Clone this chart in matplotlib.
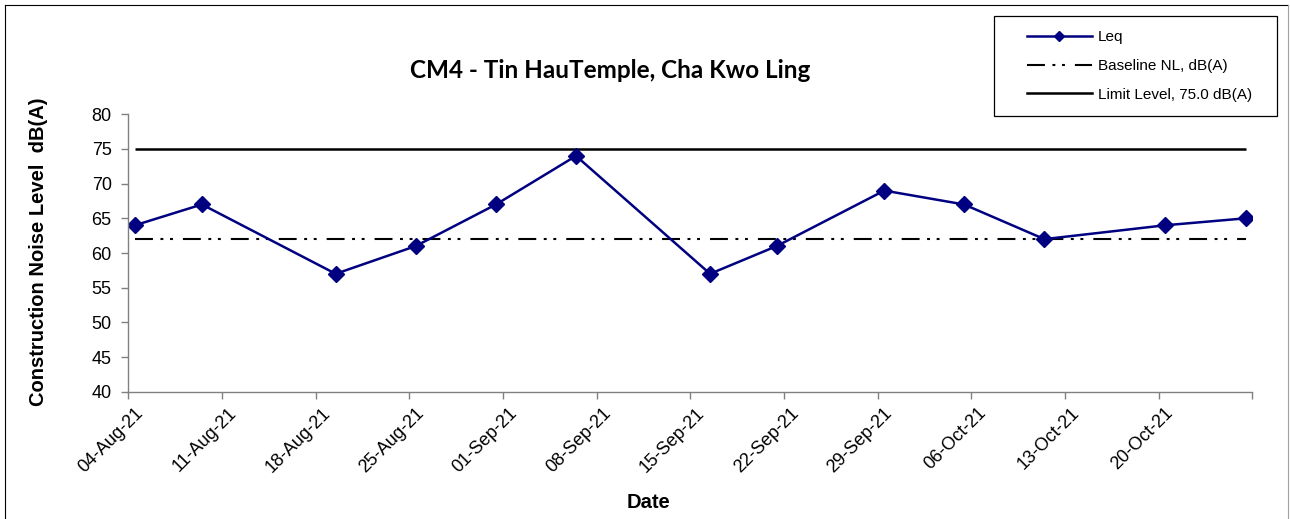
import matplotlib
matplotlib.use("Agg")
import matplotlib.pyplot as plt
import matplotlib.dates as mdates
from matplotlib.lines import Line2D
from matplotlib.patches import Rectangle
from matplotlib.ticker import FuncFormatter
import pandas as pd

# ---- data ----
dates = ["2021-08-04 12:00", "2021-08-09 12:00", "2021-08-19 12:00", "2021-08-25 11:30",
         "2021-08-31 11:30", "2021-09-06 11:00", "2021-09-16 11:30", "2021-09-21 11:00",
         "2021-09-29 12:00", "2021-10-05 11:00", "2021-10-11 11:00", "2021-10-20 12:00",
         "2021-10-26 12:00"]
leq = [64, 67, 57, 61, 67, 74, 57, 61, 69, 67, 62, 64, 65]
baseline_value = 62
limit_value = 75
labels = ["Leq", "Baseline NL, dB(A)", "Limit Level, 75.0 dB(A)"]
title = "CM4 - Tin HauTemple, Cha Kwo Ling"
xlabel = "Date"
ylabel = "Construction Noise Level  dB(A)"
x_start, x_end = "2021-08-04", "2021-10-27"

x = pd.to_datetime(dates)
baseline = [baseline_value] * len(x)
limit = [limit_value] * len(x)

W, H = 1290, 519
fig = plt.figure(figsize=(W / 100, H / 100), dpi=100)
plt.rcParams['font.family'] = ['Liberation Sans', 'DejaVu Sans']

ax = fig.add_axes([128.3 / W, 1 - 391.7 / H, (1252.3 - 128.3) / W, (391.7 - 114.3) / H])

navy = "#000080"
dash_style = (0, (8.6, 3.6, 1.4, 3.2, 1.4, 4.8))
ax.plot(x, limit, color="black", lw=1.8, solid_capstyle="butt")
ax.plot(x, baseline, color="black", lw=1.5, linestyle=dash_style)
ax.plot(x, leq, color=navy, lw=1.8, marker="D", ms=7.8, mfc=navy, mec=navy)

xmin, xmax = pd.Timestamp(x_start), pd.Timestamp(x_end)
ax.set_xlim(xmin, xmax)
ax.set_ylim(40, 80)
ax.set_yticks(range(40, 81, 5))
ax.xaxis.set_major_locator(mdates.DayLocator(interval=7))
last_tick = mdates.date2num(xmax)
ax.xaxis.set_major_formatter(FuncFormatter(
    lambda v, p: "" if abs(v - last_tick) < 0.01 else mdates.num2date(v).strftime("%d-%b-%y")))

for s in ["top", "right"]:
    ax.spines[s].set_visible(False)
for s in ["left", "bottom"]:
    ax.spines[s].set_color("#808080")
    ax.spines[s].set_linewidth(1.0)

ax.tick_params(axis="y", direction="out", length=5, width=1, color="#808080",
               labelsize=13, pad=7)
ax.tick_params(axis="x", direction="out", length=5, width=1, color="#808080",
               labelsize=13, pad=2)
fig.canvas.draw()
for lab in ax.get_xticklabels():
    lab.set_rotation(45)
    lab.set_ha("right")
    lab.set_va("top")
    lab.set_rotation_mode("anchor")
    lab.set_transform(lab.get_transform() + matplotlib.transforms.ScaledTranslation(6 / 100, -3 / 100, fig.dpi_scale_trans))

fig.text(39 / W, 1 - 252 / H, ylabel, rotation=90, ha="center", va="center",
         fontsize=14.5, fontweight="bold")
fig.text(649 / W, 1 - 503 / H, xlabel, ha="center", va="center",
         fontsize=14.5, fontweight="bold")
fig.text(610 / W, 1 - 71 / H, title, ha="center", va="center",
         fontsize=17.5, fontweight="bold", family=["Lato", "DejaVu Sans"])

# legend
handles = [Line2D([], [], color=navy, lw=1.8, marker="D", ms=5.5, mfc=navy, mec=navy),
           Line2D([], [], color="black", lw=1.5, linestyle=dash_style),
           Line2D([], [], color="black", lw=1.8)]
leg = fig.legend(handles, labels, loc="center left",
                 bbox_to_anchor=(1027 / W, 1 - 66 / H), bbox_transform=fig.transFigure,
                 frameon=False, borderpad=0, borderaxespad=0, fontsize=11,
                 handlelength=4.25, handletextpad=0.4, labelspacing=0.95, numpoints=1)
fig.patches.append(Rectangle((994 / W, 1 - 116 / H), (1277 - 994) / W, 100 / H,
                             transform=fig.transFigure, fill=False, edgecolor="black",
                             lw=0.9, figure=fig))

# outer chart border
fig.add_artist(Line2D([4.5 / W, 4.5 / W], [0, 1 - 5 / H], transform=fig.transFigure, color="black", lw=0.8))
fig.add_artist(Line2D([4.5 / W, 1288 / W], [1 - 5 / H, 1 - 5 / H], transform=fig.transFigure, color="black", lw=0.8))
fig.add_artist(Line2D([1288 / W, 1288 / W], [0, 1 - 5 / H], transform=fig.transFigure, color="#a0a0a0", lw=0.8))

fig.savefig("out.png", dpi=100)
